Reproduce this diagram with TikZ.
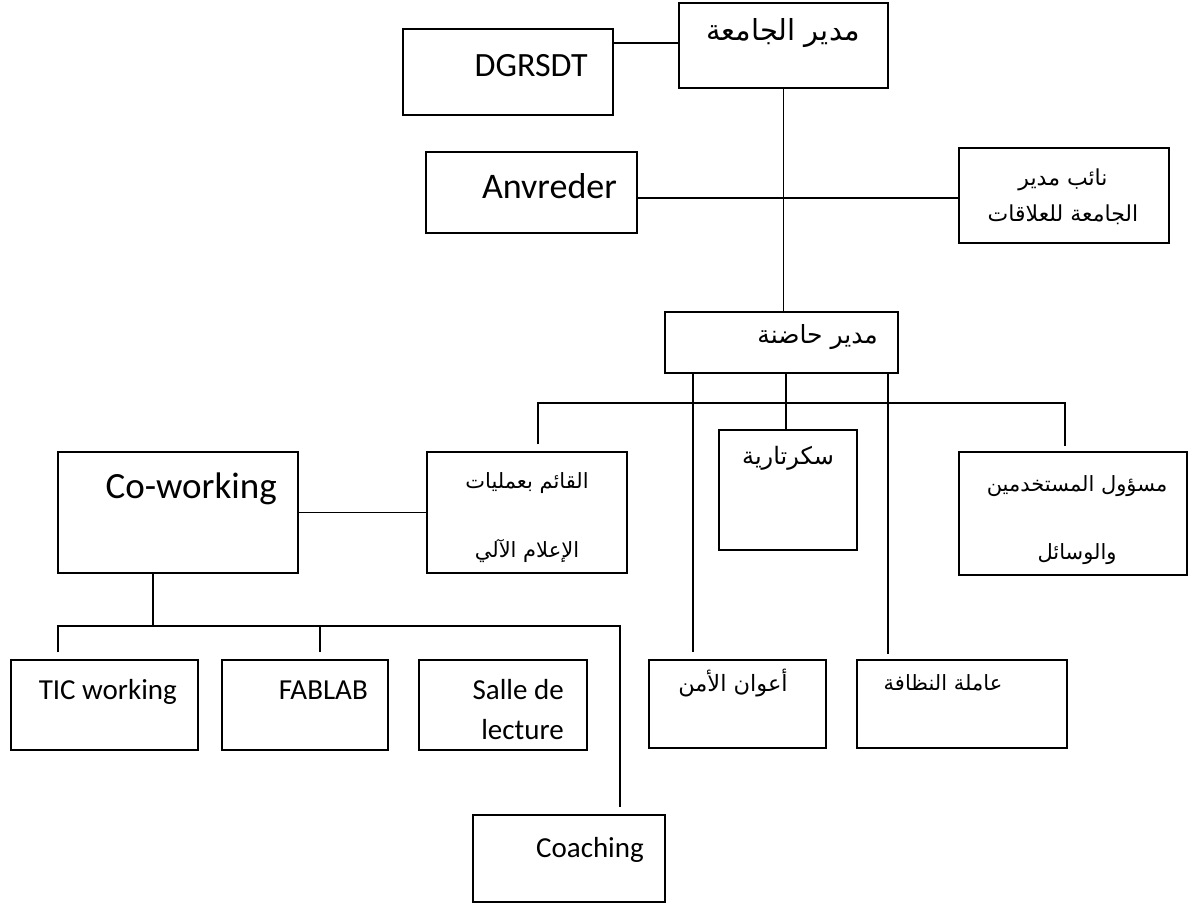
\documentclass[tikz,border=0pt]{standalone}
\usepackage{fontspec}
\setmainfont{Carlito}
\newfontfamily\arabicfont[Script=Arabic]{DejaVu Sans}
\TeXXeTstate=1
\usetikzlibrary{calc}
\newcommand{\artext}[1]{{\arabicfont\beginR #1\endR}}

\begin{document}
\begin{tikzpicture}[x=1pt,y=-1pt,
    box/.style={draw,line width=1.3pt,inner sep=0pt},
    link/.style={line width=1.1pt},
    lat/.style={inner sep=0pt,font=\fontsize{#1}{#1}\selectfont},
    arb/.style={inner sep=0pt,align=center,font=\fontsize{#1}{#1}\selectfont}]
    \useasboundingbox (0,0) rectangle (1190,904);
    % boxes
    \node[box,minimum width=209pt,minimum height=85pt] (rector) at (783.5,45.5) {};
    \node[box,minimum width=210pt,minimum height=86pt] (dg) at (508,72) {};
    \node[box,minimum width=211pt,minimum height=81pt] (anv) at (531.5,192.5) {};
    \node[box,minimum width=210pt,minimum height=95pt] (vice) at (1064,195.5) {};
    \node[box,minimum width=233pt,minimum height=61pt] (inc) at (781.5,342.5) {};
    \node[box,minimum width=200pt,minimum height=121pt] (it) at (527,512.5) {};
    \node[box,minimum width=138pt,minimum height=120pt] (sec) at (788,490) {};
    \node[box,minimum width=228pt,minimum height=123pt] (hr) at (1073,513.5) {};
    \node[box,minimum width=240pt,minimum height=121pt] (cow) at (178,512.5) {};
    \node[box,minimum width=187pt,minimum height=90pt] (tic) at (104.5,705) {};
    \node[box,minimum width=166pt,minimum height=90pt] (fab) at (305,705) {};
    \node[box,minimum width=168pt,minimum height=90pt] (salle) at (503,705) {};
    \node[box,minimum width=177pt,minimum height=88pt] (guards) at (737.5,704) {};
    \node[box,minimum width=210pt,minimum height=88pt] (clean) at (962,704) {};
    \node[box,minimum width=192pt,minimum height=87pt] (coach) at (569,858.5) {};
    % texts
    \node[arb=29,anchor=east] (t-rector) at (860,33) {\artext{مدير الجامعة}};
    \node[lat=34,anchor=base east] (t-dg) at (588,77) {DGRSDT};
    \node[lat=36,anchor=base east] (t-anv) at (617,198) {Anvreder};
    \node[arb=22,font=\fontsize{22}{36}\selectfont] (t-vice) at (1063,197) {\artext{نائب مدير}\\\artext{الجامعة للعلاقات}};
    \node[arb=25,anchor=east] (t-inc) at (878,337) {\artext{مدير حاضنة}};
    \node[arb=21,font=\fontsize{21}{69}\selectfont] (t-it) at (527,518) {\artext{القائم بعمليات}\\\artext{الإعلام الآلي}};
    \node[arb=24] (t-sec) at (788,458) {\artext{سكرتارية}};
    \node[arb=21,font=\fontsize{21}{68}\selectfont] (t-hr) at (1077,520) {\artext{مسؤول المستخدمين}\\\artext{والوسائل}};
    \node[lat=37,anchor=base east] (t-cow) at (277,498) {Co-working};
    \node[lat=29,anchor=base east] (t-tic) at (177,699) {TIC working};
    \node[lat=29,anchor=base east] (t-fab) at (368,699) {FABLAB};
    \node[lat=29,anchor=base east,align=right,font=\fontsize{29}{40}\selectfont] (t-salle) at (564,739) {Salle de\\lecture};
    \node[lat=29,anchor=base east] (t-coach) at (644,857) {Coaching};
    \node[arb=22.5] (t-guards) at (733,683) {\artext{أعوان الأمن}};
    \node[arb=21] (t-clean) at (943,683) {\artext{عاملة النظافة}};
    % connectors
    \coordinate (bus) at (786,403);
    \coordinate (busL) at (538,403);
    \coordinate (busR) at (1065,403);
    \coordinate (cbus) at (153,626);
    \coordinate (cbL) at (58,626);
    \coordinate (cbF) at (320,626);
    \coordinate (cbR) at (620,626);
    \draw[link] (dg.east |- 0,43) -- (rector.west |- 0,43);
    \draw[link] (rector.south) -- (rector.south |- inc.north);
    \draw[link] (anv.east |- 0,198) -- (vice.west |- 0,198);
    \draw[link] (inc.south -| bus) -- (bus);
    \draw[link] ($(busL |- it.north)+(0,-7)$) -- (busL) -- (busR) -- ($(busR |- hr.north)+(0,-5)$);
    \draw[link] (bus) -- (bus |- sec.north);
    \draw[link] (inc.south -| 693,0) -- ($(guards.north -| 693,0)+(0,-7)$);
    \draw[link] (inc.south -| 888,0) -- ($(clean.north -| 888,0)+(0,-5)$);
    \draw[link] (cow.east) -- (it.west);
    \draw[link] (cow.south -| cbus) -- (cbus);
    \draw[link] ($(cbL |- tic.north)+(0,-7)$) -- (cbL) -- (cbR) -- ($(cbR |- coach.north)+(0,-7)$);
    \draw[link] (cbF) -- ($(cbF |- fab.north)+(0,-7)$);
\end{tikzpicture}
\end{document}
